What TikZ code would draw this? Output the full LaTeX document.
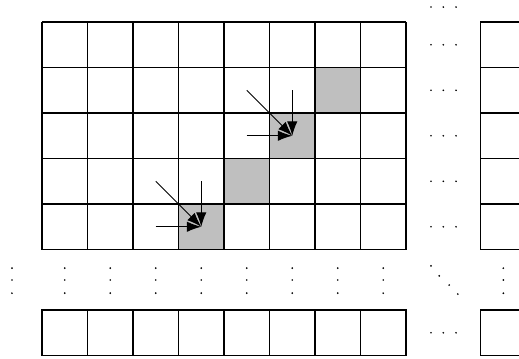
\documentclass[tikz,border=0pt]{standalone}
\usetikzlibrary{arrows.meta}
\begin{document}
\begin{tikzpicture}[>={Latex[length=9pt,width=6.5pt]},
    cellline/.style={line width=0.8pt},
    flowarrow/.style={->, line width=0.6pt},
    dotmark/.style={fill=black}]
  \useasboundingbox (-0.923,0.484) rectangle (10.484,-7.385);
  \clip (-0.923,0.484) rectangle (10.484,-7.385);

  % shaded diagonal cells
  \foreach \i/\j in {6/1, 5/2, 4/3, 3/4}
    \fill[gray!50] (\i,-\j) rectangle ++(1,-1);

  % main block, last row and last column
  \draw[cellline] (0,0) grid (8,-5);
  \foreach \i in {0,...,7}
    \draw[cellline] (\i,-6.33) rectangle ++(1,-1);
  \foreach \j in {0,...,4}
    \draw[cellline] (9.64,-\j) rectangle ++(1,-1);
  \draw[cellline] (9.64,-6.33) rectangle ++(1,-1);

  % cell centres
  \foreach \i in {0,...,7}
    \foreach \j in {0,...,4}
      \coordinate (c-\i-\j) at (\i+0.5,-\j-0.5);

  % dependencies
  \draw[flowarrow] (c-4-2) -- (c-5-2);
  \draw[flowarrow] (c-5-1) -- (c-5-2);
  \draw[flowarrow] (c-4-1) -- (c-5-2);
  \draw[flowarrow] (c-2-4) -- (c-3-4);
  \draw[flowarrow] (c-3-3) -- (c-3-4);
  \draw[flowarrow] (c-2-3) -- (c-3-4);

  % horizontal dots
  \foreach \y in {0.33,-0.5,-1.5,-2.5,-3.5,-4.5,-6.83}
    \foreach \x in {8.55,8.82,9.1}
      \fill[dotmark] (\x,\y) circle (0.6pt);
  % vertical dots
  \foreach \x in {-0.66,0.5,1.5,2.5,3.5,4.5,5.5,6.5,7.5,10.14}
    \foreach \y in {-5.41,-5.67,-5.96}
      \fill[dotmark] (\x,\y) circle (0.6pt);
  % diagonal dots
  \foreach \x/\y in {8.55/-5.36, 8.73/-5.58, 8.95/-5.78, 9.14/-5.98}
    \fill[dotmark] (\x,\y) circle (0.6pt);
\end{tikzpicture}
\end{document}
